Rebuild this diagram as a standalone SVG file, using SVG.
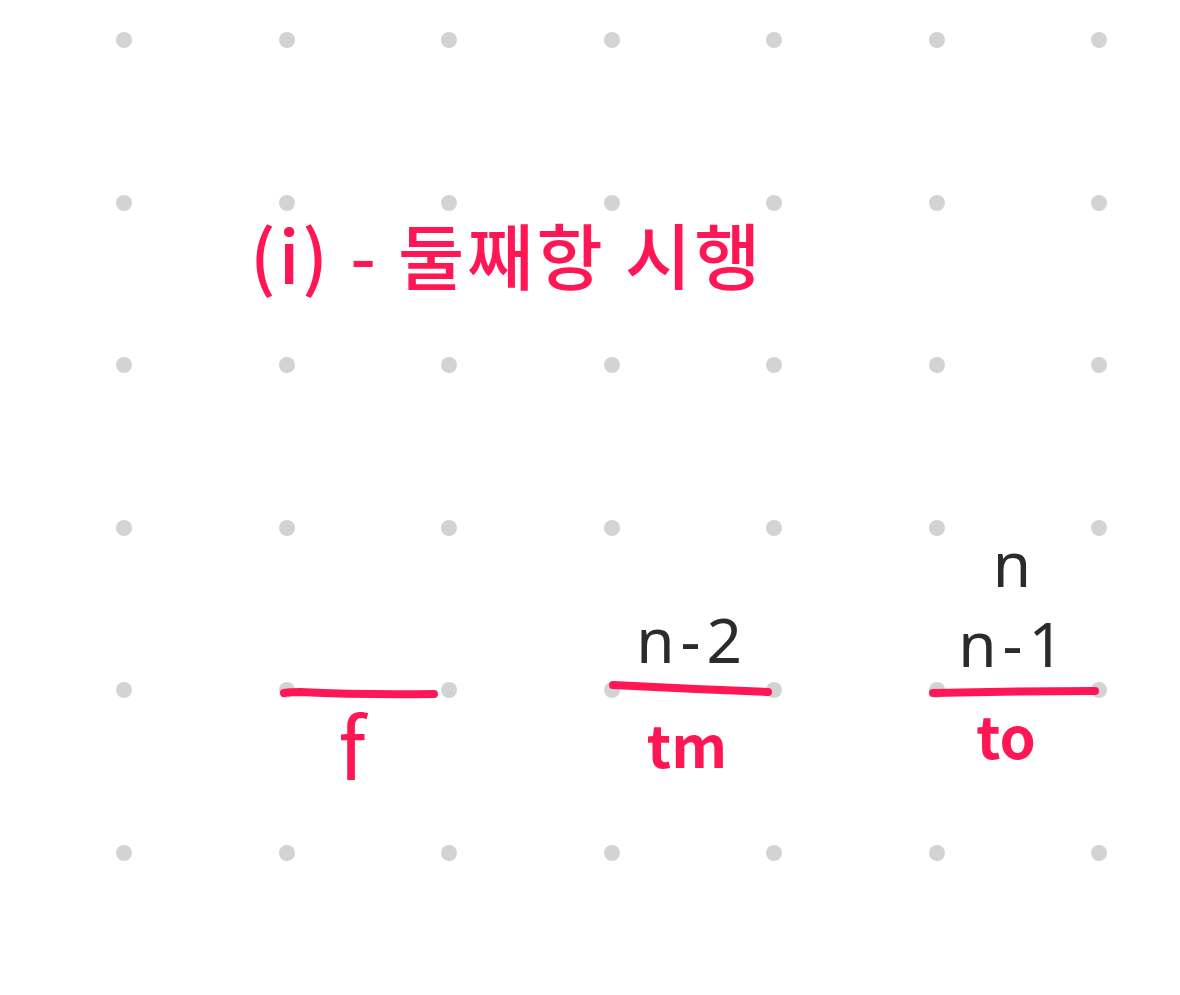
<svg xmlns="http://www.w3.org/2000/svg" width="1180" height="995" viewBox="0 0 1180 995">
<defs>
<style>
.dot{fill:#d3d3d3}
.stroke{stroke:#ff1655;stroke-width:8;stroke-linecap:round;fill:none}
.red{fill:#ff1655;font-family:"Noto Sans CJK KR","Noto Sans",sans-serif}
.blk{fill:#2b2b2b;font-family:"Noto Sans","Liberation Sans",sans-serif}
</style>
</defs>
<rect width="1180" height="995" fill="#ffffff"/>
<g id="grid">
<g class="dot">
<circle cx="124" cy="40" r="8"/><circle cx="287" cy="40" r="8"/><circle cx="449" cy="40" r="8"/><circle cx="612" cy="40" r="8"/><circle cx="774" cy="40" r="8"/><circle cx="937" cy="40" r="8"/><circle cx="1099" cy="40" r="8"/>
<circle cx="124" cy="203" r="8"/><circle cx="287" cy="203" r="8"/><circle cx="449" cy="203" r="8"/><circle cx="612" cy="203" r="8"/><circle cx="774" cy="203" r="8"/><circle cx="937" cy="203" r="8"/><circle cx="1099" cy="203" r="8"/>
<circle cx="124" cy="365" r="8"/><circle cx="287" cy="365" r="8"/><circle cx="449" cy="365" r="8"/><circle cx="612" cy="365" r="8"/><circle cx="774" cy="365" r="8"/><circle cx="937" cy="365" r="8"/><circle cx="1099" cy="365" r="8"/>
<circle cx="124" cy="528" r="8"/><circle cx="287" cy="528" r="8"/><circle cx="449" cy="528" r="8"/><circle cx="612" cy="528" r="8"/><circle cx="774" cy="528" r="8"/><circle cx="937" cy="528" r="8"/><circle cx="1099" cy="528" r="8"/>
<circle cx="124" cy="690" r="8"/><circle cx="287" cy="690" r="8"/><circle cx="449" cy="690" r="8"/><circle cx="612" cy="690" r="8"/><circle cx="774" cy="690" r="8"/><circle cx="937" cy="690" r="8"/><circle cx="1099" cy="690" r="8"/>
<circle cx="124" cy="853" r="8"/><circle cx="287" cy="853" r="8"/><circle cx="449" cy="853" r="8"/><circle cx="612" cy="853" r="8"/><circle cx="774" cy="853" r="8"/><circle cx="937" cy="853" r="8"/><circle cx="1099" cy="853" r="8"/>
</g>
</g>
<g id="title">
<text class="red" x="250" y="284" font-size="72" font-weight="500" letter-spacing="3">(i) - 둘째항 시행</text>
</g>
<g id="peg-f">
<path class="stroke" d="M284 693 Q290 692 300 692 Q360 695 434 694"/>
<text class="red" x="352" y="780" font-size="84" text-anchor="middle">f</text>
</g>
<g id="peg-tm">
<text class="blk" x="692" y="663" font-size="62" letter-spacing="6" text-anchor="middle">n-2</text>
<path class="stroke" d="M613 685 Q690 689 768 692"/>
<text class="red" x="687" y="768" font-size="58" font-weight="bold" text-anchor="middle">tm</text>
</g>
<g id="peg-to">
<text class="blk" x="1012" y="587" font-size="62" text-anchor="middle">n</text>
<text class="blk" x="1014" y="667" font-size="62" letter-spacing="6" text-anchor="middle">n-1</text>
<path class="stroke" d="M933 693 Q1010 691 1095 691"/>
<text class="red" x="1006" y="759" font-size="58" font-weight="bold" text-anchor="middle">to</text>
</g>
</svg>
